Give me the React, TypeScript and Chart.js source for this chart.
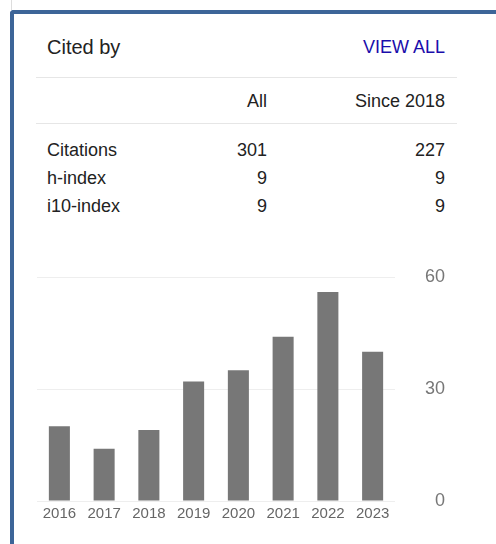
import React, { useEffect, useRef } from "react";
import { Chart, registerables } from "chart.js";

Chart.register(...registerables);

const years = ["2016", "2017", "2018", "2019", "2020", "2021", "2022", "2023"];
const citationsPerYear = [20, 14, 19, 32, 35, 44, 56, 40];
const yTicks = [0, 30, 60];

const rowLabels = ["Citations", "h-index", "i10-index"];
const allValues = ["301", "9", "9"];
const sinceValues = ["227", "9", "9"];
const colHeaders = ["All", "Since 2018"];

const FONT = "Arial, 'Liberation Sans', Helvetica, sans-serif";

export default function App() {
  const canvasRef = useRef<HTMLCanvasElement | null>(null);

  useEffect(() => {
    const canvas = canvasRef.current;
    if (!canvas) return;
    const chart = new Chart(canvas, {
      type: "bar",
      data: {
        labels: years,
        datasets: [
          {
            data: citationsPerYear,
            backgroundColor: "#777777",
            borderWidth: 0,
            categoryPercentage: 1,
            barPercentage: 0.47,
          },
        ],
      },
      options: {
        animation: false,
        responsive: false,
        maintainAspectRatio: false,
        layout: { padding: { left: 7, right: 5, top: 15, bottom: 0 } },
        plugins: { legend: { display: false }, tooltip: { enabled: false } },
        scales: {
          x: {
            grid: { display: false, drawTicks: false },
            border: { display: false },
            ticks: {
              color: "#666666",
              font: { family: FONT, size: 15 },
              padding: 4,
              maxRotation: 0,
              autoSkip: false,
            },
            afterFit: (scale: any) => {
              scale.height = 29;
              scale.paddingLeft = 0;
              scale.paddingRight = 0;
            },
          },
          y: {
            position: "right",
            min: 0,
            max: 60,
            afterBuildTicks: (scale: any) => {
              scale.ticks = yTicks.map((v) => ({ value: v }));
            },
            grid: { color: "#eeeeee", drawTicks: false, lineWidth: 1 },
            border: { display: false },
            ticks: {
              color: "#777777",
              font: { family: FONT, size: 18 },
              padding: 30,
              crossAlign: "far",
            },
            afterFit: (scale: any) => {
              scale.width = 50;
              scale.paddingTop = 0;
              scale.paddingBottom = 0;
            },
          },
        },
      },
    });
    return () => chart.destroy();
  }, []);

  const text = (
    s: string,
    style: React.CSSProperties,
    key?: string | number
  ) => (
    <div
      key={key}
      style={{
        position: "absolute",
        whiteSpace: "nowrap",
        fontFamily: FONT,
        ...style,
      }}
    >
      {s}
    </div>
  );

  const rowTops = [141, 169, 197];

  return (
    <div
      style={{
        position: "absolute",
        left: 0,
        top: 0,
        width: 496,
        height: 544,
        background: "#ffffff",
        overflow: "hidden",
      }}
    >
      <div
        style={{
          position: "absolute",
          left: 11,
          top: 0,
          width: 1,
          height: 10,
          background: "#dddddd",
        }}
      />
      <div
        style={{
          position: "absolute",
          left: 10,
          top: 10,
          width: 520,
          height: 560,
          borderLeft: "4px solid #3d6598",
          borderTop: "4px solid #3d6598",
          borderTopLeftRadius: 4,
          boxSizing: "border-box",
        }}
      />
      {text("Cited by", {
        left: 47,
        top: 37,
        fontSize: 20,
        lineHeight: "20px",
        color: "#222222",
      })}
      {text("VIEW ALL", {
        right: 496 - 445,
        top: 38,
        fontSize: 18,
        lineHeight: "18px",
        color: "#1a0dab",
      })}
      <div
        style={{
          position: "absolute",
          left: 36,
          top: 77,
          width: 421,
          height: 1,
          background: "#e6e6e6",
        }}
      />
      {text(colHeaders[0], {
        right: 496 - 267,
        top: 92,
        fontSize: 18,
        lineHeight: "18px",
        color: "#222222",
      })}
      {text(colHeaders[1], {
        right: 496 - 445,
        top: 92,
        fontSize: 18,
        lineHeight: "18px",
        color: "#222222",
      })}
      <div
        style={{
          position: "absolute",
          left: 36,
          top: 123,
          width: 421,
          height: 1,
          background: "#e6e6e6",
        }}
      />
      {rowLabels.map((r, i) =>
        text(
          r,
          {
            left: 47,
            top: rowTops[i],
            fontSize: 18,
            lineHeight: "18px",
            color: "#222222",
          },
          "l" + i
        )
      )}
      {allValues.map((v, i) =>
        text(
          v,
          {
            right: 496 - 267,
            top: rowTops[i],
            fontSize: 18,
            lineHeight: "18px",
            color: "#222222",
          },
          "a" + i
        )
      )}
      {sinceValues.map((v, i) =>
        text(
          v,
          {
            right: 496 - 445,
            top: rowTops[i],
            fontSize: 18,
            lineHeight: "18px",
            color: "#222222",
          },
          "s" + i
        )
      )}
      <canvas
        ref={canvasRef}
        width={420}
        height={268}
        style={{
          position: "absolute",
          left: 30,
          top: 262,
          width: 420,
          height: 268,
        }}
      />
    </div>
  );
}
